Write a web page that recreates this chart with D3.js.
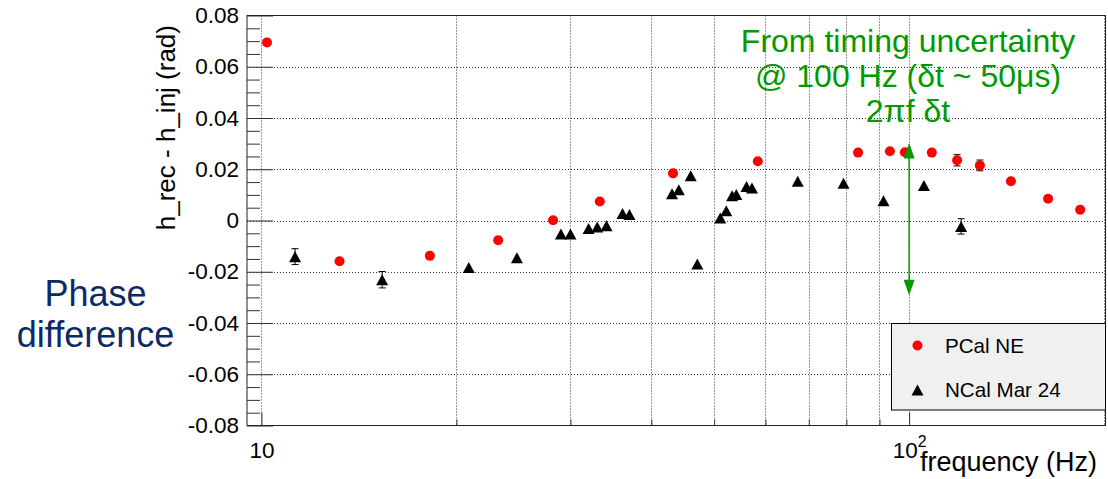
<!DOCTYPE html>
<html>
<head>
<meta charset="utf-8">
<script src="https://cdn.jsdelivr.net/npm/d3@7"></script>
<style>
  html, body { margin: 0; padding: 0; background: #fff; }
  svg { display: block; font-family: "Liberation Sans", Arial, Helvetica, sans-serif; }
</style>
</head>
<body>
<svg id="chart" width="1108" height="479"></svg>
<script>
// ---------------- data ----------------
const pcalFreq  = [10.2, 13.2, 18.2, 23.2, 28.2, 33.3, 43.2, 58.4, 83.4, 93.4, 98.5, 108.4, 118.6, 128.6, 143.6, 163.9, 183.7];
const pcalPhase = [0.0695, -0.0159, -0.0138, -0.0077, 0.0001, 0.0074, 0.0184, 0.0231, 0.0265, 0.0270, 0.0266, 0.0265, 0.0235, 0.0215, 0.0153, 0.0085, 0.0042];
const pcalErr   = [0, 0, 0, 0, 0, 0, 0, 0, 0, 0, 0, 0, 0.0022, 0.0021, 0, 0, 0];

const ncalFreq  = [11.27, 15.36, 20.9, 24.8, 29.0, 30.0, 32.0, 33.0, 34.1, 36.1, 37.0, 43.05, 44.1, 46.0, 47.1, 51.1, 52.2, 53.3, 54.1, 56.1, 57.2, 67.3, 79.2, 91.3, 105.4, 120.3];
const ncalPhase = [-0.0141, -0.0231, -0.0183, -0.0145, -0.0053, -0.0053, -0.0031, -0.0025, -0.0020, 0.0027, 0.0023, 0.0104, 0.0120, 0.0175, -0.0170, 0.0010, 0.0038, 0.0097, 0.0101, 0.0133, 0.0127, 0.0153, 0.0145, 0.0077, 0.0137, -0.0023];
const ncalErr   = [0.0031, 0.0032, 0, 0, 0, 0, 0, 0, 0, 0, 0, 0, 0, 0, 0, 0, 0, 0, 0, 0, 0, 0, 0, 0, 0, 0.0030];

const yMajorTicks = [-0.08, -0.06, -0.04, -0.02, 0, 0.02, 0.04, 0.06, 0.08];
const yTickLabels = ["-0.08", "-0.06", "-0.04", "-0.02", "0", "0.02", "0.04", "0.06", "0.08"];
const xMajorTicks = [10, 100];
const xMinorTicks = [20, 30, 40, 50, 60, 70, 80, 90];
const xGridValues = [10, 20, 30, 40, 50, 60, 70, 80, 90, 100, 200];

const annotationLines = ["From timing uncertainty", "@ 100 Hz (\u03B4t ~ 50\u03BCs)", "2\u03C0f \u03B4t"];
const arrowFreq = 100;
const arrowRange = [0.0302, -0.0292];
const legendLabels = ["PCal NE", "NCal Mar 24"];

// ---------------- layout ----------------
const svg = d3.select("#chart");
const L = 247, R = 1105.5, T = 15.5, B = 425.5;
const FONT = '"Liberation Sans", Arial, Helvetica, sans-serif';

const x = d3.scaleLog().domain([9.5, 201]).range([L, R]);
const y = d3.scaleLinear().domain([-0.08, 0.08]).range([B, T]);

svg.append("rect").attr("width", 1108).attr("height", 479).attr("fill", "#fff");

// grid
const grid = svg.append("g").attr("stroke", "#333").attr("stroke-width", 1).attr("stroke-dasharray", "1,2");
grid.selectAll("line.v").data(xGridValues).enter().append("line")
  .attr("x1", d => Math.round(x(d)) + 0.5).attr("x2", d => Math.round(x(d)) + 0.5)
  .attr("y1", T).attr("y2", B);
grid.selectAll("line.h").data(yMajorTicks.filter(v => Math.abs(v) < 0.079)).enter().append("line")
  .attr("x1", L).attr("x2", R)
  .attr("y1", d => Math.round(y(d)) + 0.5).attr("y2", d => Math.round(y(d)) + 0.5);

// y axis: major + minor ticks
const yMinor = d3.range(-0.08, 0.0801, 0.005).filter(v => Math.abs(Math.round(v / 0.02) * 0.02 - v) > 1e-6);
const yAxisMinor = d3.axisLeft(y).tickValues(yMinor).tickSize(-13).tickFormat("");
const yAxisMajor = d3.axisLeft(y).tickValues(yMajorTicks).tickSize(-26).tickPadding(8)
  .tickFormat((d, i) => yTickLabels[i]);
const gyMinor = svg.append("g").attr("transform", `translate(${L},0)`).call(yAxisMinor);
const gyMajor = svg.append("g").attr("transform", `translate(${L},0)`).call(yAxisMajor);
[gyMinor, gyMajor].forEach(g => {
  g.select(".domain").remove();
  g.selectAll(".tick line").attr("stroke", "#333");
});
gyMajor.selectAll(".tick text").attr("font-family", FONT).attr("font-size", "22.5px").attr("fill", "#000");

// x axis
const xAxisMinor = d3.axisBottom(x).tickValues(xMinorTicks).tickSize(-6).tickFormat("");
const xAxisMajor = d3.axisBottom(x).tickValues(xMajorTicks).tickSize(-13).tickPadding(16.5)
  .tickFormat(d => d === 10 ? "10" : "");
const gxMinor = svg.append("g").attr("transform", `translate(0,${B})`).call(xAxisMinor);
const gxMajor = svg.append("g").attr("transform", `translate(0,${B})`).call(xAxisMajor);
[gxMinor, gxMajor].forEach(g => {
  g.select(".domain").remove();
  g.selectAll(".tick line").attr("stroke", "#333");
});
gxMajor.selectAll(".tick text").attr("font-family", FONT).attr("font-size", "22.5px").attr("fill", "#000")
  .each(function(d) {
    if (d === 100) {
      const t = d3.select(this).attr("text-anchor", "end").attr("x", 17);
      t.append("tspan").text("10");
      t.append("tspan").attr("font-size", "16px").attr("dy", "-11").text("2");
    }
  });

// frame
svg.append("rect").attr("x", L).attr("y", T).attr("width", R - L).attr("height", B - T)
  .attr("fill", "none").attr("stroke", "#222").attr("stroke-width", 1);

// axis titles
svg.append("text").attr("x", 1097).attr("y", 470.5).attr("text-anchor", "end")
  .attr("font-family", FONT).attr("font-size", "27px").attr("fill", "#000").text("frequency (Hz)");
svg.append("text").attr("transform", "translate(175,25) rotate(-90)").attr("text-anchor", "end")
  .attr("font-family", FONT).attr("font-size", "26px").attr("fill", "#000").text("h_rec - h_inj (rad)");

// side label
const side = svg.append("text").attr("text-anchor", "middle").attr("font-family", FONT)
  .attr("font-size", "36px").attr("fill", "#0c2a68");
side.append("tspan").attr("x", 95.5).attr("y", 306).text("Phase");
side.append("tspan").attr("x", 95.5).attr("y", 347).text("difference");

// error bars
function errBars(freq, val, err) {
  const g = svg.append("g").attr("stroke", "#000").attr("stroke-width", 1);
  freq.forEach((f, i) => {
    if (!err[i]) return;
    const cx = x(f), y1 = y(val[i] + err[i]), y2 = y(val[i] - err[i]);
    g.append("line").attr("x1", cx).attr("x2", cx).attr("y1", y1).attr("y2", y2);
    g.append("line").attr("x1", cx - 3.5).attr("x2", cx + 3.5).attr("y1", y1).attr("y2", y1);
    g.append("line").attr("x1", cx - 3.5).attr("x2", cx + 3.5).attr("y1", y2).attr("y2", y2);
  });
}
errBars(pcalFreq, pcalPhase, pcalErr);
errBars(ncalFreq, ncalPhase, ncalErr);

// markers
const tri = (cx, cy) => `M${cx - 6},${cy + 5.5}L${cx + 6},${cy + 5.5}L${cx},${cy - 5.5}Z`;
svg.append("g").selectAll("circle").data(pcalFreq).enter().append("circle")
  .attr("cx", d => x(d)).attr("cy", (d, i) => y(pcalPhase[i])).attr("r", 5).attr("fill", "#ff0000");
svg.append("g").selectAll("path").data(ncalFreq).enter().append("path")
  .attr("d", (d, i) => tri(x(d), y(ncalPhase[i]))).attr("fill", "#000");

// annotation
const green = "#009a00";
const ann = svg.append("text").attr("text-anchor", "middle").attr("font-family", FONT)
  .attr("font-size", "32px").attr("fill", green);
annotationLines.forEach((s, i) => {
  ann.append("tspan").attr("x", 908).attr("y", 51.5 + i * 35).text(s);
});
const ax = x(arrowFreq), aTop = y(arrowRange[0]), aBot = y(arrowRange[1]);
svg.append("line").attr("x1", ax).attr("x2", ax).attr("y1", aTop + 10).attr("y2", aBot - 10)
  .attr("stroke", green).attr("stroke-width", 1.5);
svg.append("path").attr("d", `M${ax},${aTop}L${ax - 5.5},${aTop + 15.5}L${ax + 5.5},${aTop + 15.5}Z`).attr("fill", green);
svg.append("path").attr("d", `M${ax},${aBot}L${ax - 5.5},${aBot - 15.5}L${ax + 5.5},${aBot - 15.5}Z`).attr("fill", green);

// legend
const lg = svg.append("g");
lg.append("rect").attr("x", 891.5).attr("y", 323.5).attr("width", R - 891.5).attr("height", 86.5)
  .attr("fill", "#f0f0f0").attr("stroke", "#000").attr("stroke-width", 1);
lg.append("circle").attr("cx", 917.5).attr("cy", 345.5).attr("r", 5).attr("fill", "#ff0000");
lg.append("path").attr("d", tri(917.5, 390)).attr("fill", "#000");
lg.selectAll("text").data(legendLabels).enter().append("text")
  .attr("x", 945).attr("y", (d, i) => 353 + i * 44)
  .attr("font-family", FONT).attr("font-size", "20.6px").attr("fill", "#000").text(d => d);
</script>
</body>
</html>
